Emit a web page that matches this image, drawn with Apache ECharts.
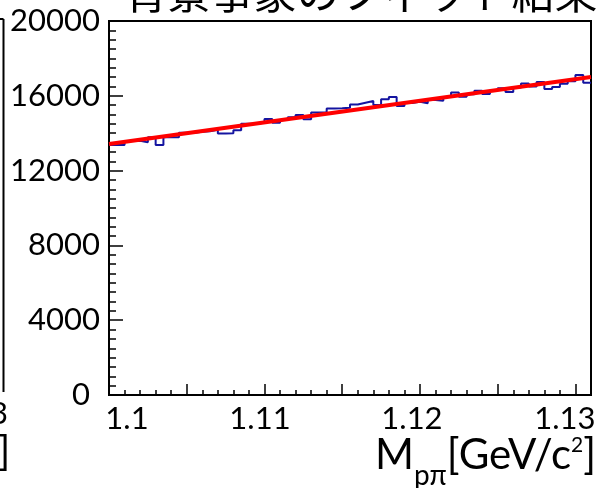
<!DOCTYPE html>
<html><head><meta charset="utf-8">
<script src="https://cdn.jsdelivr.net/npm/echarts@6/dist/echarts.min.js"></script>
<style>html,body{margin:0;padding:0;background:#fff}#c{width:601px;height:488px}</style>
</head><body><div id="c"></div>
<script>
// ---- data ----
const xMin = 1.1;
const xMax = 1.131;
const binWidth = 0.0005;
const counts = [
  13370, 13370, 13580, 13600, 13510, 13780, 13370, 13780, 13780, 14030,
  14020, 14080, 14100, 14180, 13980, 14000, 14160, 14510, 14510, 14560,
  14760, 14560, 14700, 14850, 14970, 14740, 15110, 15120, 15320, 15330,
  15360, 15530, 15630, 15720, 15510, 15810, 15940, 15450, 15620, 15680,
  15600, 15780, 15740, 15930, 16180, 15950, 16080, 16270, 16090, 16280,
  16400, 16200, 16440, 16660, 16500, 16740, 16360, 16470, 16640, 16780,
  17110, 16700
];
const fitX = [1.1, 1.131];
const fitY = [13420, 17010];
const xTickLabels = ['1.1', '1.11', '1.12', '1.13'];
const yTickLabels = ['0', '4000', '8000', '12000', '16000', '20000'];
const titleText = '背景事象のフィット結果';

// ---- build ----
const r6 = v => Math.round(v * 1e6) / 1e6;
const histData = counts.map((c, i) => [r6(xMin + i * binWidth), c]);
histData.push([xMax, counts[counts.length - 1]]);
const fitData = fitX.map((x, i) => [x, fitY[i]]);

const FONT = 'Lato';
const xShift = { '1.1': 'a', '1.11': 'b', '1.12': 'c', '1.13': 'd' };

const chart = echarts.init(document.getElementById('c'), null, { renderer: 'canvas' });
chart.setOption({
  backgroundColor: '#fff',
  animation: false,
  grid: { left: 109, top: 21, width: 482, height: 374, show: true, borderColor: '#000', borderWidth: 2, backgroundColor: 'transparent' },
  xAxis: [
    {
      type: 'value', min: xMin, max: xMax, interval: 0.001,
      axisLine: { show: false },
      axisTick: { show: true, inside: true, length: 5, lineStyle: { color: '#000', width: 1.5 } },
      axisLabel: { show: false },
      splitLine: { show: false }
    },
    {
      type: 'value', min: xMin, max: xMax, interval: 0.005, position: 'bottom',
      axisLine: { show: false },
      axisTick: { show: true, inside: true, length: 11, lineStyle: { color: '#000', width: 1.5 } },
      splitLine: { show: false },
      axisLabel: {
        show: true, margin: 8, color: '#000', fontFamily: FONT, fontSize: 31,
        showMaxLabel: false,
        formatter: v => {
          const lab = xTickLabels.find(t => Math.abs(parseFloat(t) - v) < 1e-7);
          return lab ? '{' + xShift[lab] + '|' + lab + '}' : '';
        },
        rich: {
          a: { fontFamily: FONT, fontSize: 31, color: '#000', padding: [0, 0, 0, 36] },
          b: { fontFamily: FONT, fontSize: 31, color: '#000', padding: [0, 9, 0, 0] },
          c: { fontFamily: FONT, fontSize: 31, color: '#000', padding: [0, 16, 0, 0] },
          d: { fontFamily: FONT, fontSize: 31, color: '#000', padding: [0, 21, 0, 0] }
        }
      }
    }
  ],
  yAxis: {
    type: 'value', min: 0, max: 20000, interval: 4000,
    axisLine: { show: false },
    axisTick: { show: true, inside: true, length: 14, lineStyle: { color: '#000', width: 1.5 } },
    minorTick: { show: true, splitNumber: 8, length: 7, lineStyle: { color: '#000', width: 1.5 } },
    splitLine: { show: false },
    axisLabel: {
      margin: 9, color: '#000', fontFamily: FONT, fontSize: 31,
      formatter: v => {
        const lab = yTickLabels.find(t => Math.abs(parseFloat(t) - v) < 1e-6);
        if (lab === undefined) return '';
        return lab === '0' ? '{z|0}' : lab;
      },
      rich: { z: { fontFamily: FONT, fontSize: 31, color: '#000', padding: [0, 10, 0, 0] } }
    }
  },
  series: [
    {
      type: 'line', xAxisIndex: 0, data: histData, step: 'end', showSymbol: false,
      lineStyle: { color: '#1414a0', width: 2 }, z: 2
    },
    {
      type: 'line', xAxisIndex: 0, data: fitData, showSymbol: false,
      lineStyle: { color: '#ff0000', width: 4 }, z: 3
    }
  ],
  graphic: [
    { type: 'text', x: 361, y: -7, style: { text: titleText, fontFamily: 'Noto Sans CJK JP', fontSize: 43, fill: '#000', align: 'center', verticalAlign: 'middle' } },
    {
      type: 'text', x: 596, y: 426,
      style: {
        text: '{m|M}{s|pπ}{m|[GeV/c}{p|2}{m|]}', align: 'right', verticalAlign: 'top',
        rich: {
          m: { fontFamily: FONT, fontSize: 42, fill: '#000', verticalAlign: 'top', padding: [8, 0, 0, 0] },
          s: { fontFamily: FONT, fontSize: 28, fill: '#000', verticalAlign: 'top', padding: [36, 0, 0, 0] },
          p: { fontFamily: FONT, fontSize: 21, fill: '#000', verticalAlign: 'top', padding: [9, 0, 0, 0] }
        }
      }
    },
    { type: 'line', shape: { x1: 3.5, y1: 19, x2: 3.5, y2: 392 }, style: { stroke: '#000', lineWidth: 2 } },
    { type: 'line', shape: { x1: 0, y1: 19, x2: 3.5, y2: 19 }, style: { stroke: '#000', lineWidth: 2 } },
    { type: 'text', x: -1, y: 414, style: { text: '3', fontFamily: FONT, fontSize: 31, fill: '#000', align: 'center', verticalAlign: 'middle' } },
    { type: 'text', x: 4, y: 452, style: { text: ']', fontFamily: FONT, fontSize: 40, fill: '#000', align: 'center', verticalAlign: 'middle' } }
  ]
});
</script></body></html>
